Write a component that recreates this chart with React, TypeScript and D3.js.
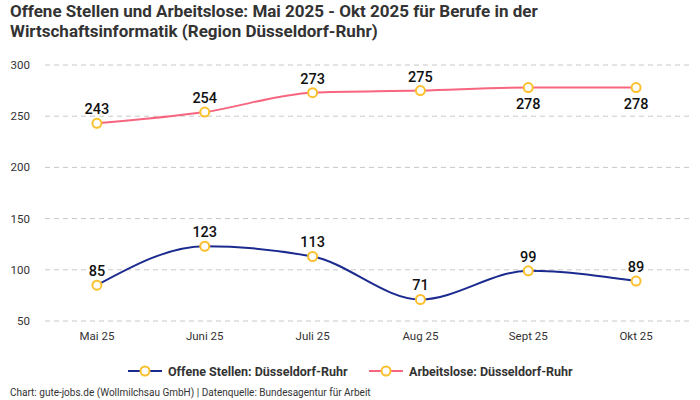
import { useEffect, useRef } from 'react';
import * as d3 from 'd3';

const months = ['Mai 25', 'Juni 25', 'Juli 25', 'Aug 25', 'Sept 25', 'Okt 25'];
const offeneStellen = [85, 123, 113, 71, 99, 89];
const arbeitslose = [243, 254, 273, 275, 278, 278];
const yTicks = [50, 100, 150, 200, 250, 300];
const seriesNames = ['Offene Stellen: Düsseldorf-Ruhr', 'Arbeitslose: Düsseldorf-Ruhr'];
const titleLines = [
  'Offene Stellen und Arbeitslose: Mai 2025 - Okt 2025 für Berufe in der',
  'Wirtschaftsinformatik (Region Düsseldorf-Ruhr)',
];
// which labels sit below the point instead of above
const arbeitsloseBelow = [false, false, false, false, true, true];

const WIDTH = 700;
const HEIGHT = 400;
const FONT = "Roboto, 'Noto Sans', sans-serif";
const NAVY = '#1b2a8e';
const PINK = '#f7657f';
const MARKER = '#fbc02d';

export default function App() {
  const svgRef = useRef<SVGSVGElement>(null);

  useEffect(() => {
    if (!svgRef.current) return;
    const svg = d3.select(svgRef.current);
    svg.selectAll('*').remove();

    const x = d3.scalePoint<string>().domain(months).range([43, 690]).padding(0.5);
    const y = d3.scaleLinear().domain([50, 300]).range([321, 65]);

    // Title
    titleLines.forEach((t, i) => {
      svg.append('text')
        .attr('x', 10).attr('y', 17 + i * 20)
        .attr('font-family', FONT)
        .attr('font-size', 17)
        .attr('font-weight', 700)
        .attr('fill', '#333')
        .text(t);
    });

    // Grid + y labels
    const grid = svg.append('g');
    yTicks.forEach(t => {
      grid.append('line')
        .attr('x1', 45).attr('x2', 690)
        .attr('y1', y(t)).attr('y2', y(t))
        .attr('stroke', '#c8c8c8')
        .attr('stroke-dasharray', '5,4');
      grid.append('text')
        .attr('x', 30).attr('y', y(t) + 4)
        .attr('text-anchor', 'end')
        .attr('font-family', FONT)
        .attr('font-size', 11.5)
        .attr('fill', '#333')
        .text(t);
    });

    // x labels
    months.forEach(m => {
      svg.append('text')
        .attr('x', x(m)!).attr('y', 340)
        .attr('text-anchor', 'middle')
        .attr('font-family', FONT)
        .attr('font-size', 11.5)
        .attr('fill', '#333')
        .text(m);
    });

    const line = d3.line<number>()
      .x((_, i) => x(months[i])!)
      .y(d => y(d))
      .curve(d3.curveMonotoneX);

    const drawSeries = (data: number[], color: string, below: boolean[]) => {
      const g = svg.append('g');
      g.append('path')
        .datum(data)
        .attr('fill', 'none')
        .attr('stroke', color)
        .attr('stroke-width', 2)
        .attr('d', line);
      data.forEach((d, i) => {
        g.append('circle')
          .attr('cx', x(months[i])!)
          .attr('cy', y(d))
          .attr('r', 4.5)
          .attr('fill', '#fff')
          .attr('stroke', MARKER)
          .attr('stroke-width', 2);
        g.append('text')
          .attr('x', x(months[i])!)
          .attr('y', below[i] ? y(d) + 21 : y(d) - 9)
          .attr('text-anchor', 'middle')
          .attr('font-family', FONT)
          .attr('font-size', 14.5)
          .attr('font-weight', 500)
          .attr('fill', '#111')
          .text(d);
      });
    };

    drawSeries(offeneStellen, NAVY, offeneStellen.map(() => false));
    drawSeries(arbeitslose, PINK, arbeitsloseBelow);

    // Legend
    const legendItems = [
      { name: seriesNames[0], color: NAVY, x: 128 },
      { name: seriesNames[1], color: PINK, x: 369 },
    ];
    legendItems.forEach(item => {
      const lg = svg.append('g').attr('transform', `translate(${item.x},371)`);
      lg.append('line')
        .attr('x1', 0).attr('x2', 34)
        .attr('stroke', item.color)
        .attr('stroke-width', 2);
      lg.append('circle')
        .attr('cx', 17).attr('r', 4.5)
        .attr('fill', '#fff')
        .attr('stroke', MARKER)
        .attr('stroke-width', 2);
      lg.append('text')
        .attr('x', 40).attr('y', 4.5)
        .attr('font-family', FONT)
        .attr('font-size', 12.5)
        .attr('font-weight', 700)
        .attr('fill', '#333')
        .text(item.name);
    });

    // Source
    svg.append('text')
      .attr('x', 10).attr('y', 396)
      .attr('font-family', FONT)
      .attr('font-size', 10)
      .attr('fill', '#333')
      .text('Chart: gute-jobs.de (Wollmilchsau GmbH) | Datenquelle: Bundesagentur für Arbeit');
  }, []);

  return (
    <svg
      ref={svgRef}
      width={WIDTH}
      height={HEIGHT}
      style={{ position: 'absolute', left: 0, top: 0, background: '#fff' }}
    />
  );
}
